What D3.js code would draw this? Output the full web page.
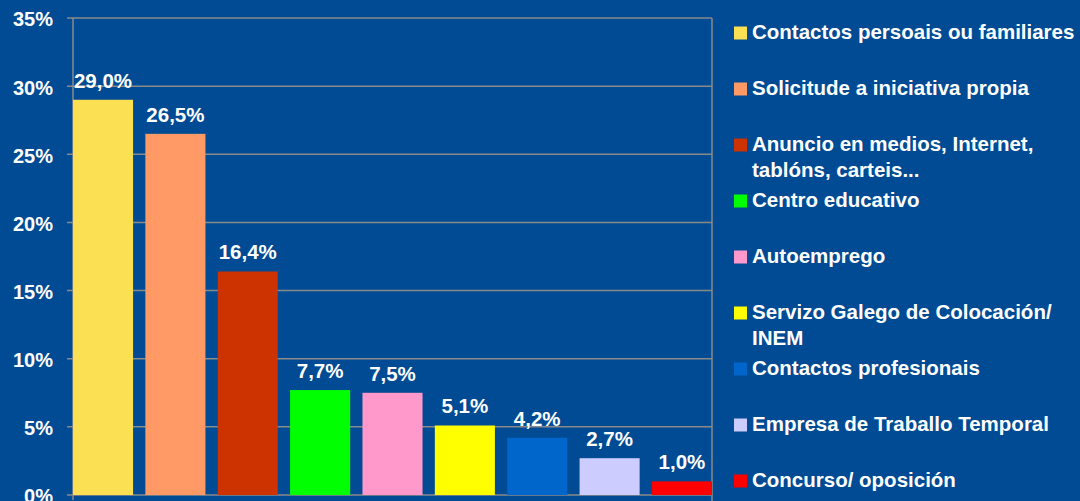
<!DOCTYPE html>
<html>
<head>
<meta charset="utf-8">
<script src="https://cdn.jsdelivr.net/npm/d3@7"></script>
<style>
  body { margin:0; background:#004B93; }
  text { font-family: "Liberation Sans", Arial, sans-serif; font-weight:bold; fill:#fff; }
</style>
</head>
<body>
<svg id="chart" width="1080" height="501"></svg>
<script>
// data
var categories = ["Contactos persoais ou familiares", "Solicitude a iniciativa propia",
    "Anuncio en medios, Internet,|tablóns, carteis...", "Centro educativo", "Autoemprego",
    "Servizo Galego de Colocación/|INEM", "Contactos profesionais",
    "Empresa de Traballo Temporal", "Concurso/ oposición"];
var values = [29.0, 26.5, 16.4, 7.7, 7.5, 5.1, 4.2, 2.7, 1.0];
var colors = ["#FCE053", "#FF9966", "#CC3300", "#00FF00", "#FF99CC", "#FFFF00", "#0066CC", "#CCCCFF", "#FF0000"];
var yTicks = [0, 5, 10, 15, 20, 25, 30, 35];

var m = {t:18, l:73, r:368, b:6},
    W = 1080, H = 501,
    chartW = W - m.l - m.r,
    chartH = H - m.t - m.b;

var svg = d3.select("#chart");
var g = svg.append("g").attr("transform", "translate(" + m.l + "," + m.t + ")");

var x = d3.scaleBand().domain(d3.range(values.length)).range([0, chartW]).paddingInner(0.17).paddingOuter(0);
var y = d3.scaleLinear().domain([0, 35]).range([chartH, 0]);

var gridColor = "#8A8A8A";

// gridlines
g.selectAll(".grid").data(yTicks).enter().append("line")
    .attr("x1", -6).attr("x2", chartW)
    .attr("y1", function(d){ return y(d); }).attr("y2", function(d){ return y(d); })
    .style("stroke", gridColor).style("stroke-width", 1.5);

// axis lines
g.append("line").attr("x1", 0).attr("x2", 0).attr("y1", 0).attr("y2", chartH + 5)
    .style("stroke", gridColor).style("stroke-width", 1.5);
g.append("line").attr("x1", chartW).attr("x2", chartW).attr("y1", 0).attr("y2", chartH + 6)
    .style("stroke", gridColor).style("stroke-width", 1.5);

// y labels
g.selectAll(".ylab").data(yTicks).enter().append("text")
    .attr("x", -20).attr("y", function(d){ return y(d); })
    .attr("dy", "0.42em")
    .style("text-anchor", "end").style("font-size", "20px")
    .text(function(d){ return d + "%"; });

// bars
g.selectAll(".bar").data(values).enter().append("rect")
    .attr("x", function(d, i){ return x(i); })
    .attr("width", x.bandwidth())
    .attr("y", function(d){ return y(d); })
    .attr("height", function(d){ return chartH - y(d); })
    .style("fill", function(d, i){ return colors[i]; });

// value labels
g.selectAll(".vlab").data(values).enter().append("text")
    .attr("x", function(d, i){ return x(i) + x.bandwidth()/2; })
    .attr("y", function(d){ return y(d) - 12; })
    .style("text-anchor", "middle").style("font-size", "20.5px")
    .text(function(d){ return d.toFixed(1).replace(".", ",") + "%"; });

// legend
var legend = svg.append("g").attr("transform", "translate(734,0)");
var items = legend.selectAll(".item").data(categories).enter().append("g")
    .attr("transform", function(d, i){ return "translate(0," + (32 + i*56) + ")"; });
items.append("rect").attr("x", 0).attr("y", -5.5).attr("width", 13).attr("height", 13)
    .style("fill", function(d, i){ return colors[i]; });
items.each(function(d){
    var lines = d.split("|");
    var t = d3.select(this).append("text").attr("x", 18).attr("y", 0)
        .style("font-size", "20.5px");
    lines.forEach(function(l, j){
        t.append("tspan").attr("x", 18).attr("dy", j == 0 ? "0.36em" : 26).text(l);
    });
});
</script>
</body>
</html>
